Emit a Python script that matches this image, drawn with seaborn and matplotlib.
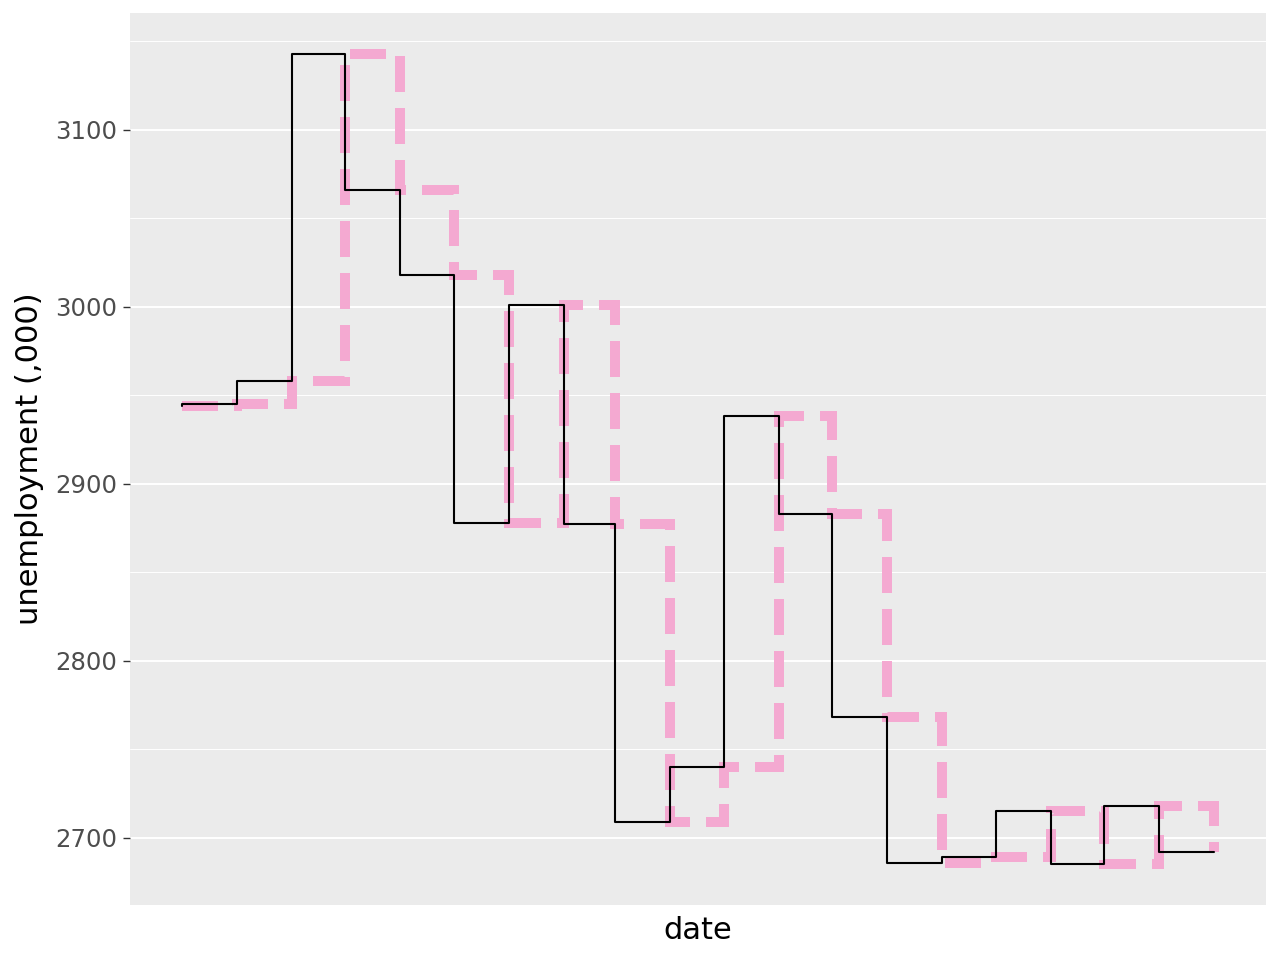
import matplotlib
matplotlib.use('Agg')
import matplotlib.pyplot as plt
import numpy as np
import pandas as pd
import seaborn as sns

# Datos (economics: unemploy, 1967-07 a 1969-02)
fechas = pd.date_range('1967-07-01', periods=20, freq='MS')
desempleo = [2944, 2945, 2958, 3143, 3066, 3018, 2878, 3001, 2877, 2709,
             2740, 2938, 2883, 2768, 2686, 2689, 2715, 2685, 2718, 2692]

df = pd.DataFrame({'date': fechas, 'unemploy': desempleo})

sns.set_style('darkgrid', {'axes.facecolor': '#EBEBEB', 'grid.color': 'white'})
plt.rcParams['font.family'] = ['DejaVu Sans']

fig, ax = plt.subplots(figsize=(6.4, 4.8), dpi=200)
fig.subplots_adjust(left=0.1016, right=0.989, top=0.9865, bottom=0.0573)

# Linea rosa discontinua (hv)
sns.lineplot(data=df, x='date', y='unemploy', ax=ax, color='#F4A9D1',
             linewidth=3.6, drawstyle='steps-post', dashes=False,
             solid_capstyle='butt')
rosa = ax.lines[-1]
rosa.set_dashes((3.6, 1.6))
rosa.set_dash_capstyle('butt')
rosa.set_dash_joinstyle('miter')
rosa.set_solid_joinstyle('miter')

# Linea negra (vh)
sns.lineplot(data=df, x='date', y='unemploy', ax=ax, color='black',
             linewidth=0.75, drawstyle='steps-pre')

ax.set_xticks([])
ax.set_yticks([2700, 2800, 2900, 3000, 3100])
ax.set_yticks(np.arange(2750, 3200, 100), minor=True)

# Escalas (expansion 5%)
x0, x1 = fechas[0], fechas[-1]
pad = (x1 - x0) * 0.05
ax.set_xlim(x0 - pad, x1 + pad)
ymin, ymax = min(desempleo), max(desempleo)
ypad = (ymax - ymin) * 0.05
ax.set_ylim(ymin - ypad, ymax + ypad)

ax.grid(True, which='major', axis='y', color='white', linewidth=0.7)
ax.grid(True, which='minor', axis='y', color='white', linewidth=0.35)
ax.grid(False, axis='x')

ax.tick_params(axis='y', which='major', length=2.5, width=0.5, color='#333333',
               labelsize=8.8, labelcolor='#4D4D4D', pad=2, left=True)
ax.tick_params(axis='y', which='minor', length=0)

ax.set_xlabel('date', fontsize=11, labelpad=4, color='black')
ax.set_ylabel('unemployment (,000)', fontsize=11, labelpad=4, color='black')

for s in ax.spines.values():
    s.set_visible(False)

plt.savefig('out.png', dpi=200)
